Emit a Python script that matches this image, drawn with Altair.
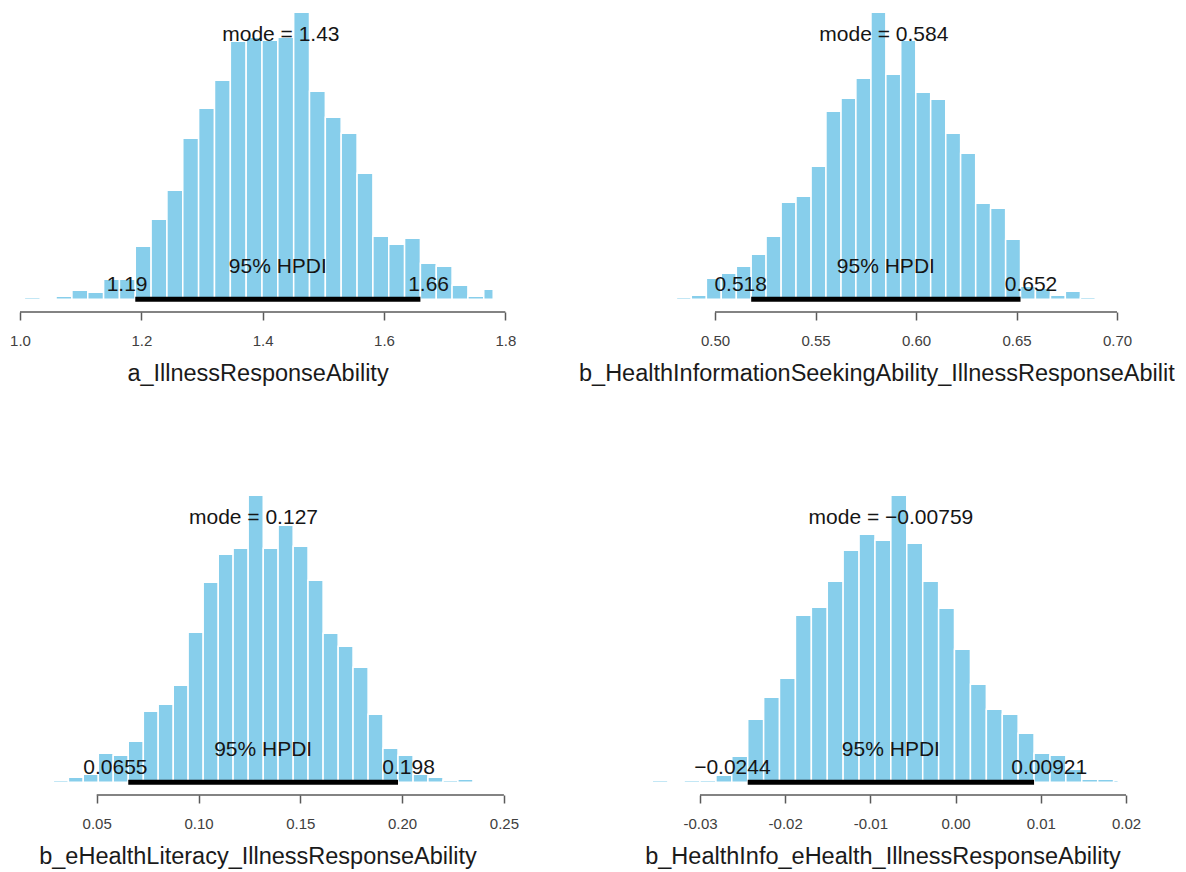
import altair as alt
import pandas as pd

# ---------------- data ----------------
# Panel 1: a_IllnessResponseAbility
a_edges = [1.0072, 1.0333, 1.0594, 1.0856, 1.1117, 1.1378, 1.1639, 1.1900, 1.2161, 1.2422,
           1.2683, 1.2944, 1.3206, 1.3467, 1.3728, 1.3989, 1.4250, 1.4511, 1.4772, 1.5033,
           1.5294, 1.5556, 1.5817, 1.6078, 1.6339, 1.6600, 1.6861, 1.7122, 1.7383, 1.7644, 1.7800]
a_counts = [2, 0, 3, 9, 7, 20, 20, 53, 80, 109, 161, 191, 219, 258, 262, 259, 262, 287, 208, 182,
            166, 126, 63, 55, 61, 36, 33, 14, 3, 10]
a_ticks = [1.0, 1.2, 1.4, 1.6, 1.8]
a_mode = 1.43
a_mode_label = "mode = 1.43"
a_hpdi = [1.19, 1.66]
a_hpdi_labels = ["1.19", "1.66"]
a_title = "a_IllnessResponseAbility"

# Panel 2: b_HealthInformationSeekingAbility_IllnessResponseAbility
b1_edges = [0.4659, 0.4733, 0.4808, 0.4882, 0.4957, 0.5031, 0.5106, 0.5180, 0.5254, 0.5329,
            0.5403, 0.5478, 0.5552, 0.5627, 0.5701, 0.5776, 0.5850, 0.5924, 0.5999, 0.6073,
            0.6148, 0.6222, 0.6297, 0.6371, 0.6446, 0.6520, 0.6594, 0.6669, 0.6743, 0.6818,
            0.6892, 0.6967, 0.7006]
b1_counts = [1, 1, 2, 4, 21, 26, 33, 45, 63, 97, 103, 133, 188, 201, 221, 287, 225, 259, 207, 200,
             166, 146, 96, 91, 60, 13, 11, 4, 8, 2, 0, 1]
b1_ticks = [0.50, 0.55, 0.60, 0.65, 0.70]
b1_mode = 0.584
b1_mode_label = "mode = 0.584"
b1_hpdi = [0.518, 0.652]
b1_hpdi_labels = ["0.518", "0.652"]
b1_title = "b_HealthInformationSeekingAbility_IllnessResponseAbility"

# Panel 3: b_eHealthLiteracy_IllnessResponseAbility
b2_edges = [0.0287, 0.0361, 0.0434, 0.0508, 0.0581, 0.0655, 0.0729, 0.0802, 0.0876, 0.0949,
            0.1023, 0.1097, 0.1170, 0.1244, 0.1318, 0.1391, 0.1465, 0.1538, 0.1612, 0.1686,
            0.1759, 0.1833, 0.1906, 0.1980, 0.2054, 0.2127, 0.2201, 0.2274, 0.2348, 0.2422, 0.2444]
b2_counts = [2, 5, 8, 29, 27, 41, 71, 78, 97, 150, 200, 228, 234, 287, 234, 257, 236, 202, 149, 136,
             115, 68, 34, 27, 8, 5, 2, 3, 0, 1]
b2_ticks = [0.05, 0.10, 0.15, 0.20, 0.25]
b2_mode = 0.127
b2_mode_label = "mode = 0.127"
b2_hpdi = [0.0655, 0.198]
b2_hpdi_labels = ["0.0655", "0.198"]
b2_title = "b_eHealthLiteracy_IllnessResponseAbility"

# Panel 4: b_HealthInfo_eHealth_IllnessResponseAbility
b3_edges = [-0.03560, -0.03374, -0.03187, -0.03000, -0.02813, -0.02627, -0.02440, -0.02253,
            -0.02067, -0.01880, -0.01693, -0.01506, -0.01320, -0.01133, -0.00946, -0.00760,
            -0.00573, -0.00386, -0.00199, -0.00013, 0.00174, 0.00361, 0.00548, 0.00734,
            0.00921, 0.01108, 0.01294, 0.01481, 0.01668, 0.01855, 0.01910]
b3_counts = [2, 1, 2, 2, 7, 26, 63, 85, 104, 167, 175, 201, 232, 248, 242, 287, 239, 201, 174, 133,
             98, 73, 68, 49, 29, 27, 13, 3, 3, 2]
b3_ticks = [-0.03, -0.02, -0.01, 0.00, 0.01, 0.02]
b3_mode = -0.00759
b3_mode_label = "mode = \u22120.00759"
b3_hpdi = [-0.0244, 0.00921]
b3_hpdi_labels = ["\u22120.0244", "0.00921"]
b3_title = "b_HealthInfo_eHealth_IllnessResponseAbility"

# ---------------- layout / style ----------------
FONT = "Liberation Sans"
W, H = 500, 304
Y_DOMAIN = [-12.7, 291.3]
TXT = 21
TITLE = 23.5


def text_width(s, size):
    w = 0.0
    for ch in s:
        if ch == ".":
            w += 0.278
        elif ch in "\u2212-":
            w += 0.584
        else:
            w += 0.556
    return w * size


def panel(edges, counts, ticks, fmt, dom, mode, mode_label, hpdi, hpdi_labels, title,
          title_x=None, title_limit=None):
    df = pd.DataFrame({"lo": edges[:-1], "hi": edges[1:], "count": counts})
    one = pd.DataFrame({"k": [0]})
    xs = alt.Scale(domain=dom, nice=False, zero=False)
    ys = alt.Scale(domain=Y_DOMAIN, nice=False, zero=False)
    bars = alt.Chart(df).mark_rect(color="#87CEEB", stroke="white", strokeWidth=1.5).encode(
        x=alt.X("lo:Q", scale=xs, axis=alt.Axis(
            values=ticks, format=fmt, title=None, domain=False, grid=False,
            tickSize=8, tickColor="#5a5a5a", tickWidth=1.5,
            labelFont=FONT, labelFontSize=15, labelColor="#404040",
            labelPadding=13, labelFlush=False, labelOverlap=False,
            labelExpr="replace(datum.label, '\u2212', '-')")),
        x2="hi:Q",
        y=alt.Y("count:Q", scale=ys, axis=None),
        y2=alt.datum(0),
    )
    axis_line = alt.Chart(one).mark_rule(color="#5a5a5a", strokeWidth=1.5).encode(
        x=alt.datum(ticks[0]), x2=alt.datum(ticks[-1]), y=alt.value(H))
    hdi_line = alt.Chart(one).mark_rule(color="black", strokeWidth=5, strokeCap="butt").encode(
        x=alt.datum(hpdi[0]), x2=alt.datum(hpdi[1]), y=alt.datum(0))
    mode_txt = alt.Chart(one).mark_text(
        text=mode_label, fontSize=TXT, baseline="alphabetic", align="center", color="#151515"
    ).encode(x=alt.datum(mode), y=alt.datum(0.9 * max(counts)))
    hdi_txt = alt.Chart(one).mark_text(
        text="95% HPDI", fontSize=TXT, baseline="alphabetic", align="center", dy=-26, color="#151515"
    ).encode(x=alt.datum((hpdi[0] + hpdi[1]) / 2), y=alt.datum(0))
    lo_txt = alt.Chart(one).mark_text(
        text=hpdi_labels[0], fontSize=TXT, baseline="alphabetic", align="center", dy=-8,
        dx=-0.2 * text_width(hpdi_labels[0], TXT), color="#151515"
    ).encode(x=alt.datum(hpdi[0]), y=alt.datum(0))
    hi_txt = alt.Chart(one).mark_text(
        text=hpdi_labels[1], fontSize=TXT, baseline="alphabetic", align="center", dy=-8,
        dx=0.2 * text_width(hpdi_labels[1], TXT), color="#151515"
    ).encode(x=alt.datum(hpdi[1]), y=alt.datum(0))
    if title_x is None:
        title_txt = alt.Chart(one).mark_text(
            text=title, fontSize=TITLE, baseline="middle", align="center", color="#1a1a1a"
        ).encode(x=alt.value(W / 2), y=alt.value(H + 62))
    else:
        title_txt = alt.Chart(one).mark_text(
            text=title, fontSize=TITLE, baseline="middle", align="left", color="#1a1a1a",
            limit=title_limit, ellipsis="\u200b"
        ).encode(x=alt.value(title_x), y=alt.value(H + 62))
    return alt.layer(bars, axis_line, hdi_line, mode_txt, hdi_txt, lo_txt, hi_txt,
                     title_txt).properties(width=W, height=H)


p1 = panel(a_edges, a_counts, a_ticks, ".1f", [0.98022, 1.80437], a_mode, a_mode_label,
           a_hpdi, a_hpdi_labels, a_title)
p2 = panel(b1_edges, b1_counts, b1_ticks, ".2f", [0.45920, 0.70796], b1_mode, b1_mode_label,
           b1_hpdi, b1_hpdi_labels, b1_title, title_x=-54, title_limit=603)
p3 = panel(b2_edges, b2_counts, b2_ticks, ".2f", [0.006434, 0.252014], b2_mode, b2_mode_label,
           b2_hpdi, b2_hpdi_labels, b2_title)
p4 = panel(b3_edges, b3_counts, b3_ticks, ".2f", [-0.037864, 0.020822], b3_mode, b3_mode_label,
           b3_hpdi, b3_hpdi_labels, b3_title)

chart = alt.concat(
    p1, p2, p3, p4, columns=2, spacing={"row": 179, "column": 125}, bounds="flush"
).properties(padding=0).configure(
    font=FONT, view=alt.ViewConfig(strokeWidth=0, stroke="transparent")
)

chart.save("out.html", embed_options={"renderer": "svg", "actions": False})
